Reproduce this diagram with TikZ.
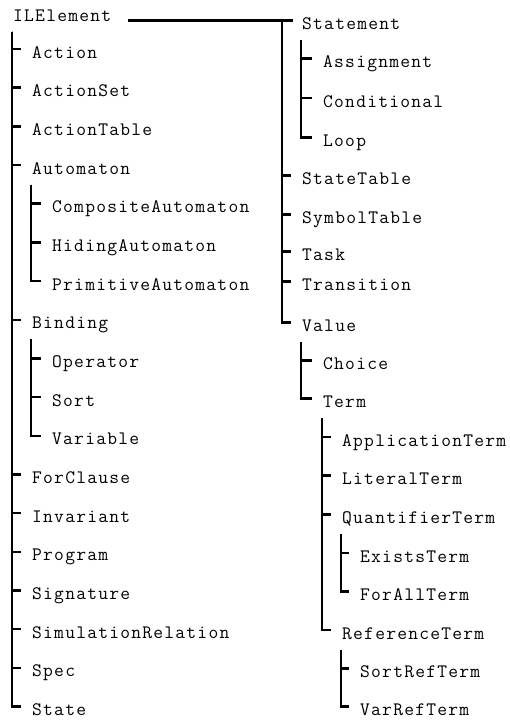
\documentclass[tikz,border=0pt]{standalone}
\usepackage{fontspec}
\newfontfamily\lblfont{Latin Modern Mono}[LetterSpace=6.5]
\usetikzlibrary{calc}
% vertical bar from a parent down to a child, with the short tick into the child
\newcommand\treeedge[2]{\draw[branch] ($(#1.base west)+(-1,10.5)$) |- ($(#2.base west)+(-11,-9)$);}
\begin{document}
\begin{tikzpicture}[x=1pt,y=-1pt,
  lbl/.style={anchor=base west, inner sep=0pt, font=\lblfont\fontsize{19}{21}\selectfont},
  branch/.style={line width=2.5pt}]
\useasboundingbox (0,0) rectangle (510,721);

% left column
\node[lbl] (IL)    at (13,21)    {ILElement};
\node[lbl] (act)   at (32,58)    {Action};
\node[lbl] (actset) at (32,96.7) {ActionSet};
\node[lbl] (acttab) at (32,135.4) {ActionTable};
\node[lbl] (aut)   at (32,174.0) {Automaton};
\node[lbl] (comp)  at (52,212.7) {CompositeAutomaton};
\node[lbl] (hid)   at (52,251.4) {HidingAutomaton};
\node[lbl] (prim)  at (52,290.1) {PrimitiveAutomaton};
\node[lbl] (bind)  at (32,328.8) {Binding};
\node[lbl] (oper)  at (52,367.4) {Operator};
\node[lbl] (sort)  at (52,406.1) {Sort};
\node[lbl] (var)   at (52,444.8) {Variable};
\node[lbl] (forcl) at (32,483.5) {ForClause};
\node[lbl] (inv)   at (32,522.2) {Invariant};
\node[lbl] (prog)  at (32,560.8) {Program};
\node[lbl] (sig)   at (32,599.5) {Signature};
\node[lbl] (sim)   at (32,638.2) {SimulationRelation};
\node[lbl] (spec)  at (32,676.9) {Spec};
\node[lbl] (state) at (32,715.6) {State};

% right column
\node[lbl] (stmt)  at (302,29.5)  {Statement};
\node[lbl] (assign) at (323,67.5) {Assignment};
\node[lbl] (cond)  at (323,107)   {Conditional};
\node[lbl] (loop)  at (323,146.5) {Loop};
\node[lbl] (sttab) at (302,184.5) {StateTable};
\node[lbl] (symtab) at (302,223.5) {SymbolTable};
\node[lbl] (task)  at (302,260.5) {Task};
\node[lbl] (trans) at (302,290.5) {Transition};
\node[lbl] (val)   at (302,331.5) {Value};
\node[lbl] (choice) at (323,369.5) {Choice};
\node[lbl] (term)  at (323,407.5) {Term};
\node[lbl] (appl)  at (342,446)   {ApplicationTerm};
\node[lbl] (lit)   at (342,484.5) {LiteralTerm};
\node[lbl] (quant) at (342,523.5) {QuantifierTerm};
\node[lbl] (exist) at (360,562)   {ExistsTerm};
\node[lbl] (forall) at (360,600.5) {ForAllTerm};
\node[lbl] (ref)   at (342,639)   {ReferenceTerm};
\node[lbl] (sortref) at (360,677.5) {SortRefTerm};
\node[lbl] (varref) at (360,715.6) {VarRefTerm};

% ILElement children, left
\foreach \c in {act,actset,acttab,aut,bind,forcl,inv,prog,sig,sim,spec,state}
  {\treeedge{IL}{\c}}
\foreach \c in {comp,hid,prim} {\treeedge{aut}{\c}}
\foreach \c in {oper,sort,var} {\treeedge{bind}{\c}}

% ILElement children, right
\coordinate (hEnd)  at ($(stmt.base west)+(-9,-9)$);
\coordinate (hStart) at ($(IL.base west)+(115,0)$);
\coordinate (rBar)  at ($(stmt.base west)+(-20,-9)$);
\draw[branch] (hStart |- hEnd) -- (hEnd);
\foreach \c in {stmt,sttab,symtab,task,trans,val}
  {\draw[branch] (rBar) |- ($(\c.base west)+(-11,-9)$);}
\foreach \c in {assign,cond,loop} {\treeedge{stmt}{\c}}
\foreach \c in {choice,term} {\treeedge{val}{\c}}
\foreach \c in {appl,lit,quant,ref} {\treeedge{term}{\c}}
\foreach \c in {exist,forall} {\treeedge{quant}{\c}}
\foreach \c in {sortref,varref} {\treeedge{ref}{\c}}
\end{tikzpicture}
\end{document}
